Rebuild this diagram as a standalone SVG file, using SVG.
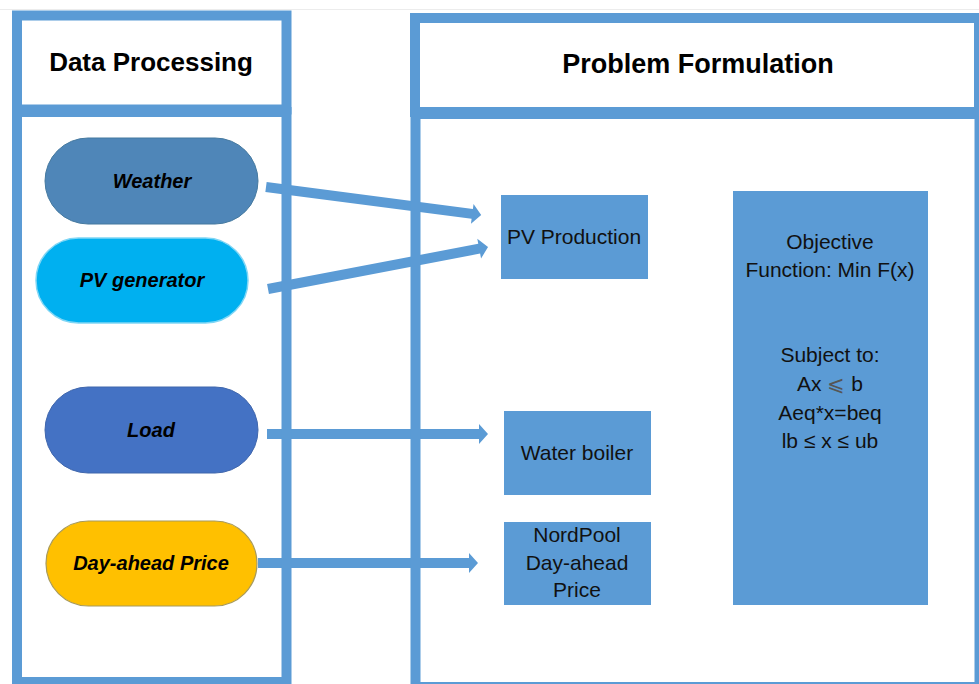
<svg xmlns="http://www.w3.org/2000/svg" width="979" height="684" viewBox="0 0 979 684">
<style>
  .frame{fill:none;stroke:#5B9BD5;stroke-width:10}
  .hdr{font-family:"Liberation Sans",Arial,sans-serif;font-weight:bold;font-size:26px;fill:#000;text-anchor:middle}
  .pill{font-family:"Liberation Sans",Arial,sans-serif;font-weight:bold;font-style:italic;font-size:20px;fill:#000;text-anchor:middle}
  .box{fill:#5B9BD5}
  .btxt{font-family:"Liberation Sans",Arial,sans-serif;font-size:21px;fill:#111;text-anchor:middle}
  .arr{fill:#5B9BD5}
</style>
<rect x="0" y="0" width="979" height="684" fill="#fff"/>
<line x1="0" y1="9.5" x2="979" y2="9.5" stroke="#ececec" stroke-width="1"/>

<g id="connectors">
  <path class="arr" transform="translate(266,187) rotate(7.42)" d="M0,-5 H208 V-10 L217,0 L208,10 V5 H0 Z"/>
  <path class="arr" transform="translate(268,289) rotate(-10.81)" d="M0,-5 H215 V-10 L224,0 L215,10 V5 H0 Z"/>
  <path class="arr" d="M267,429 H479 V424 L488,434 L479,444 V439 H267 Z"/>
  <path class="arr" d="M258,558 H469 V553 L478,563 L469,573 V568 H258 Z"/>
</g>

<g id="data-processing">
  <rect class="frame" x="17" y="15.5" width="269.5" height="94"/>
  <rect class="frame" x="17" y="112" width="269.5" height="570"/>
  <text class="hdr" x="151" y="71">Data Processing</text>
</g>

<g id="problem-formulation">
  <rect class="frame" x="415" y="18" width="564" height="94"/>
  <rect class="frame" x="415.5" y="114" width="564" height="573"/>
  <text class="hdr" x="698" y="73" style="font-size:27px">Problem Formulation</text>
</g>

<g id="weather">
  <rect x="45" y="138" width="213" height="86" rx="43" fill="#4F86B8" stroke="#45799F" stroke-width="1"/>
  <text class="pill" x="152" y="188">Weather</text>
</g>
<g id="pv-generator">
  <rect x="36" y="238" width="212" height="85" rx="42.5" fill="#00B0F0" stroke="#7FD6F5" stroke-width="1.5"/>
  <text class="pill" x="142" y="287">PV generator</text>
</g>
<g id="load">
  <rect x="45" y="387" width="213" height="86" rx="43" fill="#4472C4" stroke="#3F66AC" stroke-width="1"/>
  <text class="pill" x="151" y="437">Load</text>
</g>
<g id="day-ahead-price">
  <rect x="46" y="521" width="211" height="85" rx="42.5" fill="#FFC000" stroke="#A89A5A" stroke-width="1.2"/>
  <text class="pill" x="151" y="570">Day-ahead Price</text>
</g>

<g id="pv-production">
  <rect class="box" x="501" y="195" width="147" height="84"/>
  <text class="btxt" x="574" y="244">PV Production</text>
</g>
<g id="water-boiler">
  <rect class="box" x="504" y="411" width="147" height="84"/>
  <text class="btxt" x="577" y="460">Water boiler</text>
</g>
<g id="nordpool">
  <rect class="box" x="504" y="522" width="147" height="83"/>
  <text class="btxt" x="577" y="542">NordPool</text>
  <text class="btxt" x="577" y="570">Day-ahead</text>
  <text class="btxt" x="577" y="597">Price</text>
</g>
<g id="objective">
  <rect class="box" x="733" y="191" width="195" height="414"/>
  <text class="btxt" x="830" y="249">Objective</text>
  <text class="btxt" x="830" y="277">Function: Min F(x)</text>
  <text class="btxt" x="830" y="362">Subject to:</text>
  <text class="btxt" x="830" y="391">Ax <tspan fill="#555">⩽</tspan> b</text>
  <text class="btxt" x="830" y="420">Aeq*x=beq</text>
  <text class="btxt" x="830" y="448">lb ≤ x ≤ ub</text>
</g>
</svg>
